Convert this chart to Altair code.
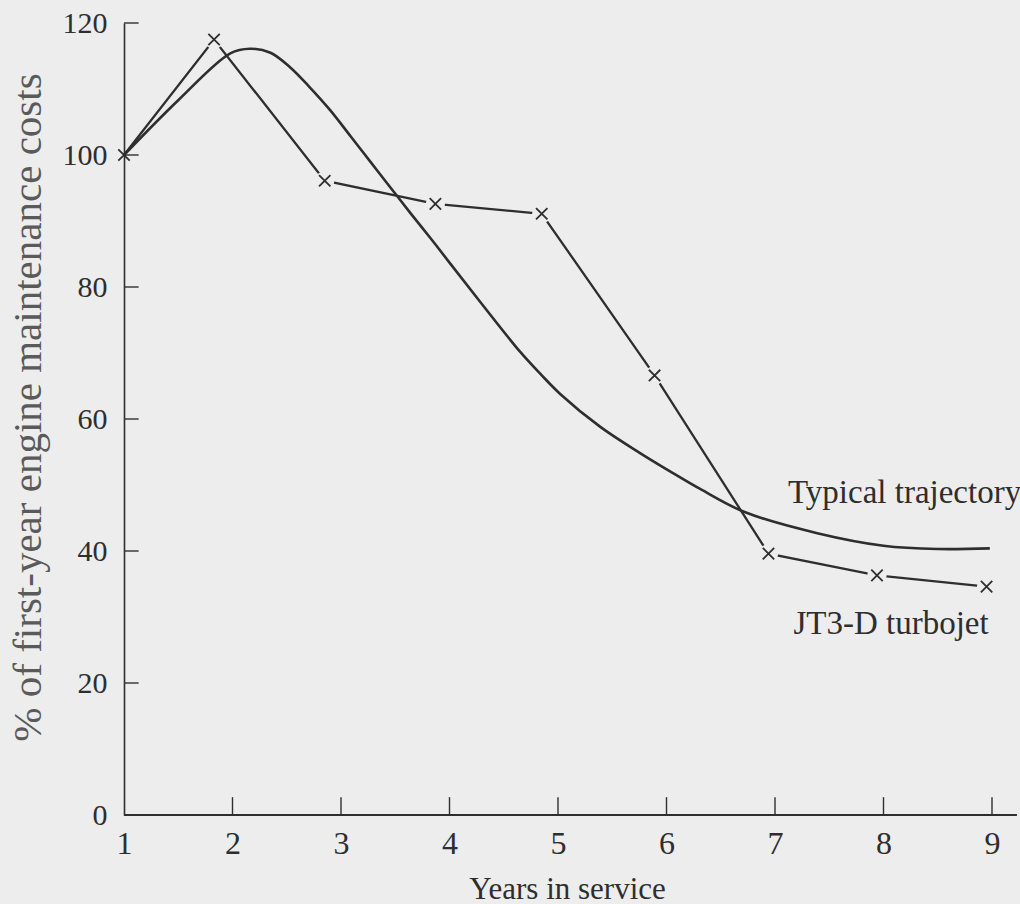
import altair as alt
import pandas as pd

BG = "#ededed"
INK = "#2e2e2e"
FONT = "Liberation Serif"

# JT3-D turbojet
jt_years = [1.0, 1.83, 2.85, 3.87, 4.85, 5.89, 6.94, 7.94, 8.95]
jt_vals = [100.0, 117.5, 96.1, 92.6, 91.1, 66.6, 39.6, 36.3, 34.6]

# Typical trajectory (smooth curve)
typ_years = [1.0, 1.5, 1.98, 2.16, 2.35, 2.53, 2.71, 2.90, 3.09, 3.27, 3.45, 3.64, 3.82,
             4.00, 4.28, 4.65, 4.84, 5.02, 5.39, 5.76, 6.06, 6.31, 6.72, 7.39, 8.0, 8.5, 8.98]
typ_vals = [100.0, 108.3, 115.4, 116.1, 115.5, 113.3, 110.3, 106.8, 102.8, 99.0, 95.2, 91.2,
            87.5, 83.7, 77.8, 70.2, 66.8, 63.8, 58.8, 54.8, 51.8, 49.4, 45.9, 42.7, 40.8,
            40.3, 40.4]

x_tick_values = [1, 2, 3, 4, 5, 6, 7, 8, 9]
y_tick_values = [0, 20, 40, 60, 80, 100, 120]

labels = ["Typical trajectory", "JT3-D turbojet"]
label_x = [7.12, 7.17]
label_y = [48.8, 29.0]

jt_df = pd.DataFrame({"x": jt_years, "y": jt_vals})
typ_df = pd.DataFrame({"x": typ_years, "y": typ_vals})
lab_df = pd.DataFrame({"x": label_x, "y": label_y, "label": labels})
xt_df = pd.DataFrame({"x": x_tick_values[1:], "y": [0] * 8, "y2": [2.7] * 8})
yt_df = pd.DataFrame({"y": y_tick_values[1:], "x": [1.0] * 6, "x2": [1.135] * 6})
base_df = pd.DataFrame({"x": [1.0], "x2": [9.23], "y": [0.0]})

xscale = alt.Scale(domain=[1, 9], nice=False, zero=False)
yscale = alt.Scale(domain=[0, 120], nice=False)

xaxis = alt.Axis(
    values=x_tick_values, title="Years in service", ticks=False, domain=False, grid=False,
    labelFont=FONT, labelFontSize=32, labelColor=INK, labelBaseline="alphabetic",
    labelPadding=38, labelFlush=False, labelOverlap=False,
    titleFont=FONT, titleFontSize=31, titleFontWeight="normal", titleColor=INK,
    titleBaseline="alphabetic", titleX=443, titleY=83, titleAnchor="middle",
)
yaxis = alt.Axis(
    values=y_tick_values, title="% of first-year engine maintenance costs", ticks=False,
    domain=True, domainColor=INK, domainWidth=1.6, grid=False,
    labelFont=FONT, labelFontSize=30, labelColor=INK, labelPadding=17, labelFlush=False,
    labelOverlap=False,
    titleFont=FONT, titleFontSize=41, titleFontWeight="normal", titleColor="#5a5a5a",
    titleBaseline="alphabetic", titleX=-84, titleY=384, titleAngle=-90, titleAlign="center",
)

X = alt.X("x:Q", scale=xscale, axis=xaxis)
Y = alt.Y("y:Q", scale=yscale, axis=yaxis)

typ_line = alt.Chart(typ_df).mark_line(
    interpolate="catmull-rom", color=INK, strokeWidth=2.6
).encode(x=X, y=Y)

jt_line = alt.Chart(jt_df).mark_line(color=INK, strokeWidth=2.3).encode(x=X, y=Y)

# background-coloured discs that open small gaps in the line around each marker
gaps = alt.Chart(jt_df).transform_filter("datum.x > 1").mark_point(
    shape="circle", filled=True, fill=BG, stroke=BG, fillOpacity=1, strokeOpacity=1,
    opacity=1, size=300
).encode(x=X, y=Y)

crosses = alt.Chart(jt_df).mark_point(
    shape="M-1,-1L1,1M-1,1L1,-1", filled=False, color=INK, size=130, strokeWidth=1.8, opacity=1
).encode(x=X, y=Y)

xticks = alt.Chart(xt_df).mark_rule(color=INK, strokeWidth=1.4).encode(
    x=X, y=Y, y2="y2:Q"
)
yticks = alt.Chart(yt_df).mark_rule(color=INK, strokeWidth=1.4).encode(
    x=X, x2="x2:Q", y=Y
)
baseline = alt.Chart(base_df).mark_rule(color=INK, strokeWidth=1.8, clip=False).encode(
    x=X, x2="x2:Q", y=Y
)

texts = alt.Chart(lab_df).mark_text(
    align="left", baseline="middle", font=FONT, fontSize=33, color=INK
).encode(x=X, y=Y, text="label:N")

chart = alt.layer(
    typ_line, jt_line, gaps, crosses, xticks, yticks, baseline, texts
).properties(
    width=868, height=792,
    autosize=alt.AutoSizeParams(type="none"),
    padding={"left": 124, "top": 23, "right": 28, "bottom": 89},
    background=BG,
).configure_view(stroke=None)

chart.save("out.html", embed_options={"renderer": "svg", "actions": False})
